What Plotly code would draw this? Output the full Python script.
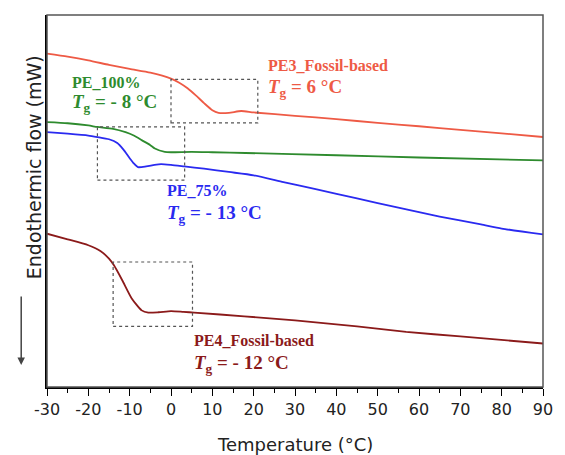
import plotly.graph_objects as go

# DSC heating scans, heat flow (mW, arbitrary offset) vs temperature (°C)
pe3_temp = [-30, -25, -20, -15, -10, -5, 0, 2, 4, 6, 8, 10, 11.5, 14, 17, 20, 30, 40, 50, 60, 70, 80, 90]
pe3_flow = [8.96, 8.88, 8.78, 8.66, 8.55, 8.45, 8.29, 8.18, 8.03, 7.84, 7.63, 7.44, 7.37, 7.37, 7.42, 7.38,
            7.29, 7.20, 7.10, 7.01, 6.91, 6.82, 6.72]

pe100_temp = [-30, -25, -20, -17.8, -14, -11, -9, -7, -5, -3.9, -1.5, 0, 5, 10, 18, 40, 60, 90]
pe100_flow = [7.12, 7.09, 7.03, 6.99, 6.94, 6.85, 6.76, 6.63, 6.50, 6.41, 6.32, 6.31, 6.32, 6.31, 6.29,
              6.23, 6.17, 6.09]

pe75_temp = [-30, -25, -20, -17.8, -15, -13, -11.5, -10, -9, -8, -6, -4, -2.4, 0, 3.2, 8, 14, 20, 27.2,
             35, 45, 55, 65, 75, 80, 90]
pe75_flow = [6.85, 6.81, 6.76, 6.72, 6.66, 6.56, 6.38, 6.15, 6.01, 5.91, 5.93, 5.97, 5.99, 5.97, 5.93,
             5.87, 5.78, 5.69, 5.51, 5.32, 5.07, 4.82, 4.58, 4.37, 4.26, 4.10]

pe4_temp = [-30, -25, -20, -17, -15, -13.8, -11.8, -9.5, -7.1, -5.5, -3, 0, 3, 5.6, 17.7, 30, 45, 56.9, 70, 90]
pe4_flow = [4.12, 3.97, 3.81, 3.65, 3.45, 3.27, 2.87, 2.38, 2.06, 2.00, 2.01, 2.04, 2.02, 2.00, 1.90,
            1.79, 1.63, 1.48, 1.36, 1.17]

series_names = ["PE3_Fossil-based", "PE_100%", "PE_75%", "PE4_Fossil-based"]
tg_values = [6, -8, -13, -12]
colors = ["#EE5A45", "#2E8B2E", "#2A2AF0", "#8B1A1A"]

# temperature axis ticks (plain hyphen for negatives)
tick_temps = list(range(-30, 91, 10))
tick_labels = [str(t) for t in tick_temps]

# temperature / heat-flow windows framing each glass transition
tg_windows = [(0, 21, 7.10, 8.27), (-17.8, 3.3, 5.56, 6.99), (-14, 5.2, 1.63, 3.36)]

# label anchors (temperature, heat flow) for name and Tg lines
label_pos = [((22.9, 8.65), (22.9, 8.03)),
             ((-24.5, 8.18), (-24.5, 7.63)),
             ((-1.5, 5.29), (-1.5, 4.64)),
             ((5.2, 1.26), (5.2, 0.61))]

fig = go.Figure()
for t, f, c in zip([pe3_temp, pe100_temp, pe75_temp, pe4_temp],
                   [pe3_flow, pe100_flow, pe75_flow, pe4_flow], colors):
    fig.add_trace(go.Scatter(x=t, y=f, mode="lines",
                             line=dict(color=c, width=1.8, shape="spline", smoothing=0.6),
                             showlegend=False, hoverinfo="skip"))

for x0, x1, y0, y1 in tg_windows:
    fig.add_shape(type="rect", xref="x", yref="y", x0=x0, x1=x1, y0=y0, y1=y1,
                  line=dict(color="#555555", width=1.2, dash="dot"))

serif = "Liberation Serif, Times New Roman, serif"
for name, tg, c, (p_name, p_tg) in zip(series_names, tg_values, colors, label_pos):
    fig.add_annotation(x=p_name[0], y=p_name[1], xref="x", yref="y", showarrow=False,
                       xanchor="left", yanchor="middle", text=f"<b>{name}</b>",
                       font=dict(family=serif, size=16, color=c))
    tg_txt = f"{tg}" if tg >= 0 else f"- {abs(tg)}"
    fig.add_annotation(x=p_tg[0], y=p_tg[1], xref="x", yref="y", showarrow=False,
                       xanchor="left", yanchor="middle",
                       text=f"<b><i>T</i><sub>g</sub> = {tg_txt} °C</b>",
                       font=dict(family=serif, size=19, color=c))

# plot frame (top/right in grey)
fig.add_shape(type="rect", xref="paper", yref="paper", x0=0, x1=1, y0=0, y1=1,
              line=dict(color="#555555", width=1.5), layer="above")

sans = "DejaVu Sans, Verdana, sans-serif"
fig.add_annotation(x=-0.053, y=0.59, xref="paper", yref="paper", showarrow=False,
                   text="Endothermic flow (mW)", textangle=-90,
                   font=dict(family=sans, size=19, color="#222222"))
fig.add_annotation(x=-0.052, y=0.059, xref="paper", yref="paper", ax=0, ay=-70,
                   text="", showarrow=True, arrowhead=2, arrowsize=1, arrowwidth=1.5,
                   arrowcolor="#444444")
fig.add_annotation(x=0.5, y=-0.155, xref="paper", yref="paper", showarrow=False,
                   text="Temperature (°C)", yanchor="middle",
                   font=dict(family=sans, size=18, color="#222222"))

fig.update_layout(
    width=565, height=455,
    margin=dict(l=47, r=12, t=15, b=68),
    paper_bgcolor="white", plot_bgcolor="white",
    xaxis=dict(range=[-30, 90], tickmode="array", tickvals=tick_temps, ticktext=tick_labels,
               showgrid=False, zeroline=False,
               showline=True, linecolor="black", linewidth=1.5,
               ticks="outside", ticklen=7, tickwidth=1.3, tickcolor="black",
               minor=dict(tickvals=[t + 5 for t in tick_temps[:-1]], ticks="outside",
                          ticklen=4, tickwidth=1.2, tickcolor="black"),
               tickfont=dict(family=sans, size=16, color="#222222")),
    yaxis=dict(range=[0, 10], showgrid=False, zeroline=False, showticklabels=False,
               showline=True, linecolor="black", linewidth=1.5, ticks=""),
)

fig.write_html("out.html")
